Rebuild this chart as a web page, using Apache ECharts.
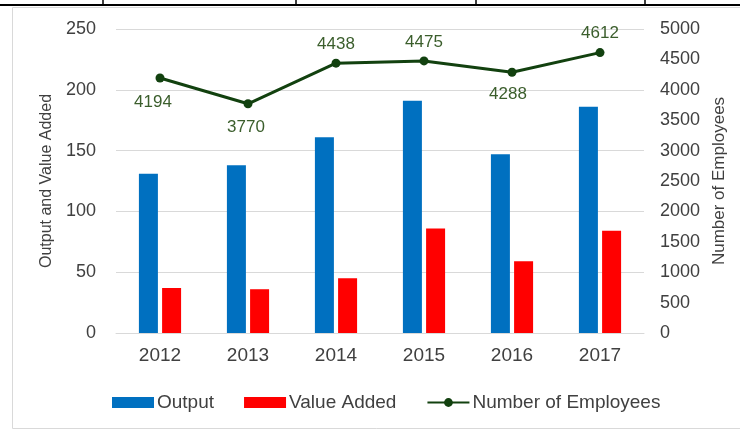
<!DOCTYPE html>
<html>
<head>
<meta charset="utf-8">
<script src="https://cdn.jsdelivr.net/npm/echarts@6/dist/echarts.min.js"></script>
<style>
    html, body { margin: 0; padding: 0; background: #fff; }
    #main { width: 740px; height: 430px; }
</style>
</head>
<body>
<div id="main"></div>
<script>
var years = ['2012', '2013', '2014', '2015', '2016', '2017'];
var output = [131, 138, 161, 191, 147, 186];
var valueAdded = [37, 36, 45, 86, 59, 84];
var employees = [4194, 3770, 4438, 4475, 4288, 4612];

(function () {
    var chart = echarts.init(document.getElementById('main'));
    var font = 'Liberation Sans, Arial, sans-serif';
    var textColor = '#404040';

    // labels under the points that dip
    var labelBelow = { 0: [-7, 5], 1: [-2, 5], 4: [-4, 3] };

    var empData = employees.map(function (v, i) {
        var item = { value: v };
        if (labelBelow[i]) {
            item.label = { position: 'bottom', offset: labelBelow[i] };
        }
        return item;
    });

    var option = {
        animation: false,
        textStyle: { fontFamily: font },
        graphic: [
            // table lines above the chart
            { type: 'line', shape: { x1: 0, y1: 5, x2: 740, y2: 5 }, style: { stroke: '#000', lineWidth: 2 } },
            { type: 'line', shape: { x1: 103, y1: 0, x2: 103, y2: 5 }, style: { stroke: '#000', lineWidth: 1.5 } },
            { type: 'line', shape: { x1: 296, y1: 0, x2: 296, y2: 5 }, style: { stroke: '#000', lineWidth: 1.5 } },
            { type: 'line', shape: { x1: 476, y1: 0, x2: 476, y2: 5 }, style: { stroke: '#000', lineWidth: 1.5 } },
            { type: 'line', shape: { x1: 645, y1: 0, x2: 645, y2: 5 }, style: { stroke: '#000', lineWidth: 1.5 } },
            // chart box
            { type: 'rect', shape: { x: 12.5, y: 7.5, width: 740, height: 421 }, style: { fill: 'none', stroke: '#d9d9d9', lineWidth: 1 } }
        ],
        grid: { left: 116, right: 96, top: 29, bottom: 97 },
        legend: {
            left: 107,
            top: 388,
            itemWidth: 42,
            itemHeight: 11,
            itemGap: 30,
            textStyle: { fontSize: 19, color: textColor, fontFamily: font, padding: [0, 0, 0, -2] },
            data: [
                { name: 'Output', icon: 'rect' },
                { name: 'Value Added', icon: 'rect' },
                { name: 'Number of Employees' }
            ]
        },
        xAxis: {
            type: 'category',
            data: years,
            axisTick: { show: false },
            axisLine: { lineStyle: { color: '#d9d9d9' } },
            axisLabel: { fontSize: 19, color: textColor, margin: 13 }
        },
        yAxis: [{
            type: 'value',
            min: 0, max: 250, interval: 50,
            name: 'Output and Value Added',
            nameLocation: 'middle',
            nameGap: 59,
            nameTextStyle: { fontSize: 16, color: textColor },
            axisLabel: { fontSize: 18, color: textColor, margin: 20 },
            splitLine: { lineStyle: { color: '#d9d9d9' } }
        }, {
            type: 'value',
            min: 0, max: 5000, interval: 500,
            name: 'Number of Employees',
            nameLocation: 'middle',
            nameGap: 67,
            nameRotate: 90,
            nameTextStyle: { fontSize: 17, color: textColor },
            axisLabel: {
                fontSize: 18, color: textColor, margin: 16,
                formatter: function (v) { return String(v); }
            },
            splitLine: { show: false }
        }],
        series: [{
            name: 'Output',
            type: 'bar',
            data: output,
            barWidth: 19,
            barGap: '22%',
            itemStyle: { color: '#0070c0' }
        }, {
            name: 'Value Added',
            type: 'bar',
            data: valueAdded,
            barWidth: 19,
            itemStyle: { color: '#ff0000' }
        }, {
            name: 'Number of Employees',
            type: 'line',
            yAxisIndex: 1,
            data: empData,
            symbol: 'circle',
            symbolSize: 9,
            lineStyle: { color: '#12410f', width: 3 },
            itemStyle: { color: '#12410f' },
            label: {
                show: true,
                position: 'top',
                distance: 6,
                fontSize: 17,
                color: '#3b5e2c'
            }
        }]
    };

    chart.setOption(option);
})();
</script>
</body>
</html>
